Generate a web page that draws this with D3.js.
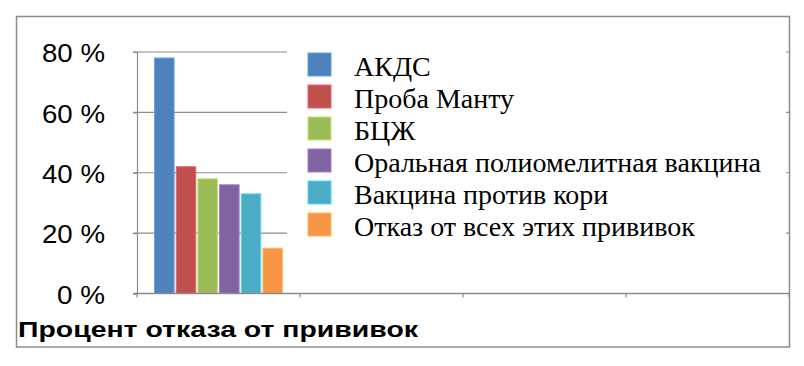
<!DOCTYPE html>
<html>
<head>
<meta charset="utf-8">
<script src="https://cdn.jsdelivr.net/npm/d3@7"></script>
<style>
  html, body { margin: 0; padding: 0; background: #fff; }
  svg { display: block; }
</style>
</head>
<body>
<svg id="chart" width="804" height="366"></svg>
<script>
// ---- data ----
const series = ["АКДС", "Проба Манту", "БЦЖ", "Оральная полиомелитная вакцина", "Вакцина против кори", "Отказ от всех этих прививок"];
const values = [78, 42, 38, 36, 33, 15];
const colors = ["#4F81BD", "#C0504D", "#9BBB59", "#8064A2", "#4BACC6", "#F79646"];
const slots = ["Процент отказа от прививок", "slot2", "slot3", "slot4"];
const yTicks = [0, 20, 40, 60, 80];
const title = "Процент отказа от прививок";

const svg = d3.select("#chart");

// frame
svg.append("rect").attr("x", 16.5).attr("y", 16.5).attr("width", 773).attr("height", 330.5)
  .attr("fill", "#fff").attr("stroke", "#8c8c8c").attr("stroke-width", 1.5);

const plot = { left: 137, right: 789, top: 52, bottom: 293.5 };

const y = d3.scaleLinear().domain([0, 80]).range([plot.bottom, plot.top]);
const x = d3.scaleBand().domain(slots).range([plot.left, plot.right]).padding(0);
const xs = d3.scaleBand().domain(series).range([0, x.bandwidth()]).paddingInner(0.1).paddingOuter(0.81);

// gridlines
svg.append("g").selectAll("line").data(yTicks.filter(d => d > 0)).join("line")
  .attr("x1", plot.left - 4).attr("x2", plot.right)
  .attr("y1", d => y(d)).attr("y2", d => y(d))
  .attr("stroke", "#8c8c8c").attr("stroke-width", 1.2);

// y axis
const yAxis = svg.append("g").attr("transform", `translate(${plot.left},0)`)
  .call(d3.axisLeft(y).tickValues(yTicks).tickSize(4).tickFormat(d => d + " %"));
yAxis.select(".domain").attr("stroke", "#8c8c8c").attr("stroke-width", 1.2);
yAxis.selectAll(".tick line").attr("stroke", "#8c8c8c").attr("stroke-width", 1.2);
yAxis.selectAll(".tick text")
  .attr("x", -32).attr("dy", "0.38em")
  .attr("font-family", "Liberation Sans, Arial, sans-serif").attr("font-size", 25.5).attr("fill", "#000")
  .attr("textLength", d => d === 0 ? 48 : 63).attr("lengthAdjust", "spacingAndGlyphs");

// bars
svg.append("g").selectAll("rect").data(series).join("rect")
  .attr("x", (d, i) => x(slots[0]) + xs(d))
  .attr("width", xs.bandwidth())
  .attr("y", (d, i) => y(values[i]))
  .attr("height", (d, i) => y(0) - y(values[i]))
  .attr("fill", (d, i) => colors[i])
  .attr("stroke", (d, i) => d3.color(colors[i]).brighter(0.6))
  .attr("stroke-width", 1);

// x axis
const xAxis = svg.append("g").attr("transform", `translate(0,${plot.bottom})`);
xAxis.append("line").attr("x1", plot.left - 4).attr("x2", plot.right).attr("y1", 0).attr("y2", 0)
  .attr("stroke", "#8c8c8c").attr("stroke-width", 1.5);
const tickXs = slots.map(s => x(s)).concat([plot.right]);
xAxis.selectAll("line.t").data(tickXs).join("line").attr("class", "t")
  .attr("x1", d => d).attr("x2", d => d).attr("y1", 0).attr("y2", 4)
  .attr("stroke", "#8c8c8c").attr("stroke-width", 1.2);

// legend (white box covering gridlines)
const legend = svg.append("g");
legend.append("rect").attr("x", 287).attr("y", 40).attr("width", 499).attr("height", 210).attr("fill", "#fff");
const items = legend.selectAll("g.item").data(series).join("g").attr("class", "item")
  .attr("transform", (d, i) => `translate(308,${53 + i * 32})`);
items.append("rect").attr("width", 23).attr("height", 23)
  .attr("fill", (d, i) => colors[i])
  .attr("stroke", (d, i) => d3.color(colors[i]).brighter(0.6)).attr("stroke-width", 1);
items.append("text").attr("x", 46).attr("y", 22.5)
  .attr("font-family", "Liberation Serif, Times New Roman, serif").attr("font-size", 28).attr("fill", "#000")
  .text(d => d);

// title
svg.append("text").attr("x", 18).attr("y", 337)
  .attr("font-family", "Liberation Sans, Arial, sans-serif").attr("font-weight", "bold")
  .attr("font-size", 21.5).attr("fill", "#000")
  .attr("textLength", 400).attr("lengthAdjust", "spacingAndGlyphs")
  .text(title);
</script>
</body>
</html>
